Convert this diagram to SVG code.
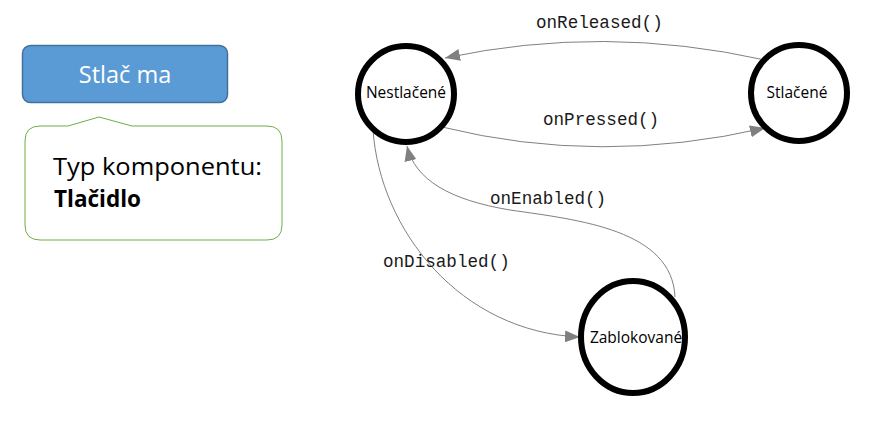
<svg xmlns="http://www.w3.org/2000/svg" width="873" height="424" viewBox="0 0 873 424">
  <style>
    .state { fill: #ffffff; stroke: #000000; stroke-width: 6; }
    .slabel { font-family: "Open Sans", "Noto Sans", sans-serif; font-size: 15.5px; fill: #000000; text-anchor: middle; }
    .edge { fill: none; stroke: #808080; stroke-width: 1; }
    .elabel { font-family: "Liberation Mono", "Courier New", monospace; font-size: 17.6px; fill: #1a1a1a; }
    .note { font-family: "Open Sans", "Noto Sans", sans-serif; font-size: 23px; fill: #000000; }
  </style>
  <defs>
    <marker id="arrow" markerUnits="userSpaceOnUse" markerWidth="16" markerHeight="12" refX="15" refY="6" orient="auto">
      <path d="M0,0 L15,6 L0,12 z" fill="#808080"/>
    </marker>
  </defs>
  <rect width="873" height="424" fill="#ffffff"/>

  <g id="button">
    <rect x="22.5" y="45.5" width="205" height="57" rx="8" ry="8" fill="#5B9BD5" stroke="#41719C" stroke-width="1.5"/>
    <text x="125" y="83" font-family="Open Sans, Noto Sans, sans-serif" font-size="23.5" fill="#ffffff" text-anchor="middle">Stlač ma</text>
  </g>

  <g id="callout">
    <path d="M 40,126 L 68,126 L 99,117 L 132,126 L 267,126 Q 282,126 282,141 L 282,225 Q 282,240 267,240 L 40,240 Q 25,240 25,225 L 25,141 Q 25,126 40,126 Z" fill="#ffffff" stroke="#70AD47" stroke-width="1"/>
    <text class="note" x="53" y="175" textLength="209" lengthAdjust="spacingAndGlyphs">Typ komponentu:</text>
    <text class="note" x="54" y="207" font-weight="bold" textLength="87" lengthAdjust="spacingAndGlyphs">Tlačidlo</text>
  </g>

  <g id="connectors">
    <path class="edge" d="M 765,60 Q 604,24 445,58" marker-end="url(#arrow)"/>
    <path class="edge" d="M 442,127 Q 600,166 765,128" marker-end="url(#arrow)"/>
    <path class="edge" d="M 373,130 C 380,230 460,332 580,337" marker-end="url(#arrow)"/>
    <path class="edge" d="M 675,297 C 672,230 580,220 510,210 C 450,200 415,180 407,146" marker-end="url(#arrow)"/>
    <text class="elabel" x="536" y="28">onReleased()</text>
    <text class="elabel" x="543" y="125">onPressed()</text>
    <text class="elabel" x="490" y="204">onEnabled()</text>
    <text class="elabel" x="383" y="267">onDisabled()</text>
  </g>

  <g id="nestlacene">
    <circle class="state" cx="406" cy="94" r="48"/>
    <text class="slabel" x="406" y="98">Nestlačené</text>
  </g>

  <g id="stlacene">
    <circle class="state" cx="799" cy="93" r="48"/>
    <text class="slabel" x="797" y="98">Stlačené</text>
  </g>

  <g id="zablokovane">
    <ellipse class="state" cx="633" cy="337" rx="52" ry="56"/>
    <text class="slabel" x="636" y="343">Zablokované</text>
  </g>
</svg>
